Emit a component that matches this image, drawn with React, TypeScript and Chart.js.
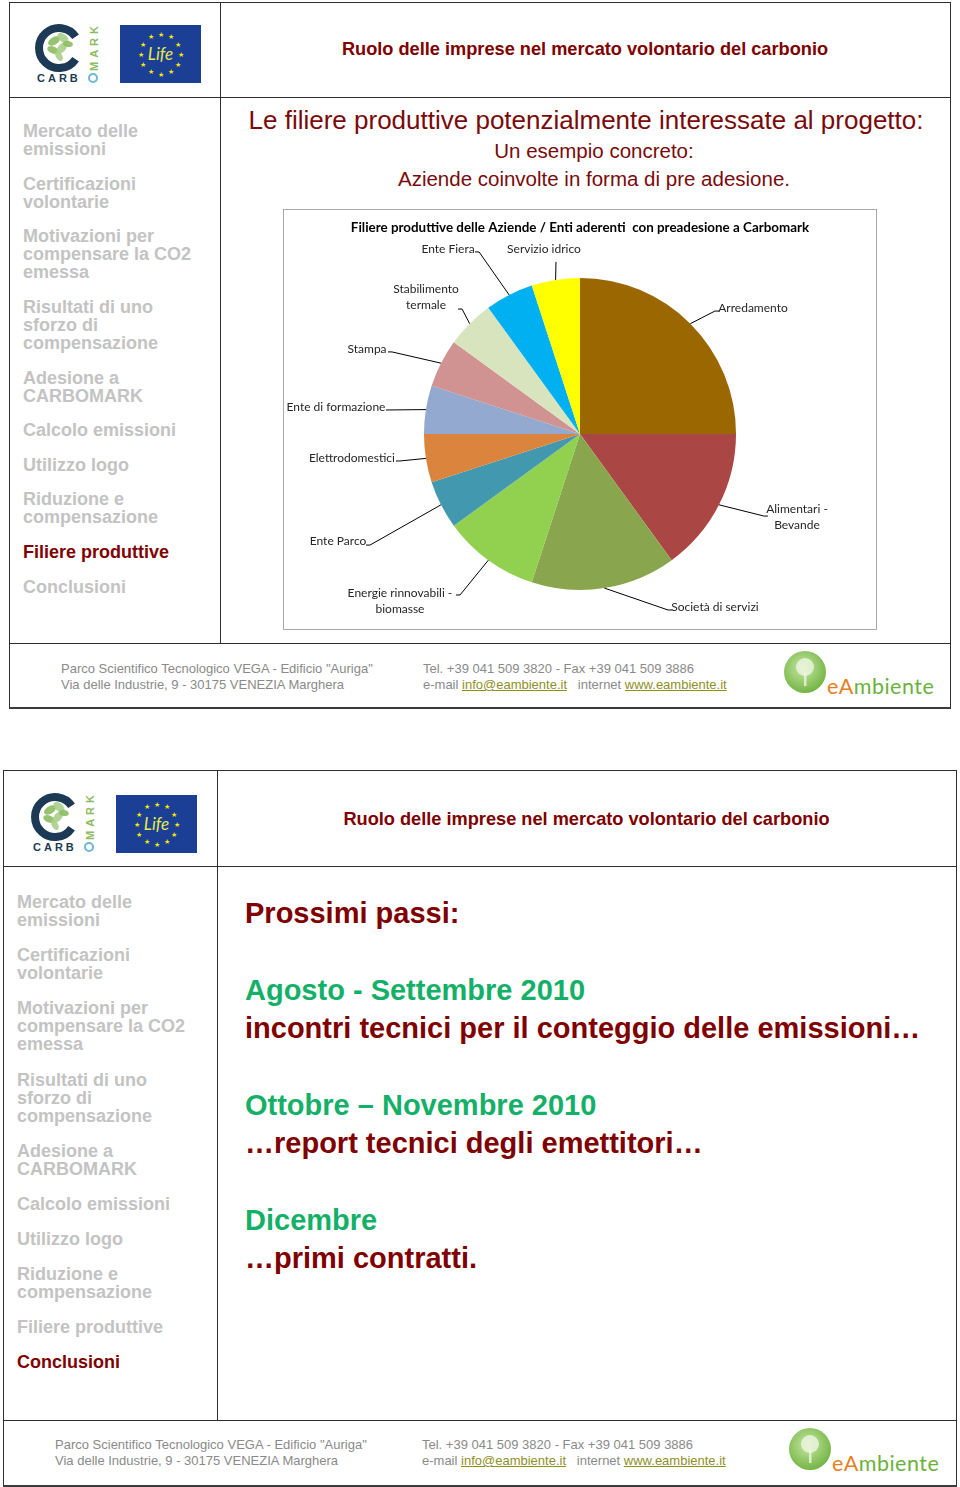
import React, { useEffect, useRef } from "react";
import { Chart, registerables } from "chart.js";

Chart.register(...registerables);

// ---------- chart data ----------
const categories = [
  "Arredamento",
  "Alimentari -\nBevande",
  "Società di servizi",
  "Energie rinnovabili -\nbiomasse",
  "Ente Parco",
  "Elettrodomestici",
  "Ente di formazione",
  "Stampa",
  "Stabilimento\ntermale",
  "Ente Fiera",
  "Servizio idrico",
];
const companies = [5, 3, 3, 2, 1, 1, 1, 1, 1, 1, 1];
const sliceColors = [
  "#9A6700",
  "#AA4643",
  "#89A54E",
  "#92D050",
  "#4198AF",
  "#DB843D",
  "#93A9CF",
  "#D19392",
  "#D8E4BE",
  "#00B0F0",
  "#FFFF00",
];
const chartTitle = "Filiere produttive delle Aziende / Enti aderenti  con preadesione a Carbomark";

// label layout, in units of the pie radius, relative to the pie centre
const labelTextPos = [
  [1.109, -0.808],
  [1.391, 0.532],
  [0.865, 1.109],
  [-1.154, 1.071],
  [-1.551, 0.686],
  [-1.462, 0.154],
  [-1.564, -0.173],
  [-1.365, -0.545],
  [-0.987, -0.878],
  [-0.846, -1.186],
  [-0.231, -1.186],
];
const leaderEnd = [
  [0.865, -0.788],
  [1.179, 0.526],
  [0.564, 1.128],
  [-0.769, 1.032],
  [-1.346, 0.712],
  [-1.154, 0.173],
  [-1.218, -0.154],
  [-1.205, -0.526],
  [-0.756, -0.801],
  [-0.647, -1.167],
  [-0.154, -1.103],
];

// ---------- page texts ----------
const slideTitle = "Ruolo delle imprese nel mercato volontario del carbonio";
const navItems = [
  "Mercato delle\nemissioni",
  "Certificazioni\nvolontarie",
  "Motivazioni per\ncompensare la CO2\nemessa",
  "Risultati di uno\nsforzo di\ncompensazione",
  "Adesione a\nCARBOMARK",
  "Calcolo emissioni",
  "Utilizzo logo",
  "Riduzione e\ncompensazione",
  "Filiere produttive",
  "Conclusioni",
];

const leaderPlugin = {
  id: "leaderLabels",
  afterDatasetsDraw(chart: any) {
    const ctx = chart.ctx;
    const meta = chart.getDatasetMeta(0);
    ctx.save();
    meta.data.forEach((arc: any, i: number) => {
      const p = arc.getProps(["x", "y", "startAngle", "endAngle", "outerRadius"], true);
      const r = p.outerRadius;
      const mid = (p.startAngle + p.endAngle) / 2;
      const sx = p.x + Math.cos(mid) * r;
      const sy = p.y + Math.sin(mid) * r;
      const ex = p.x + leaderEnd[i][0] * r;
      const ey = p.y + leaderEnd[i][1] * r;
      const tx = p.x + labelTextPos[i][0] * r;
      const ty = p.y + labelTextPos[i][1] * r;
      ctx.strokeStyle = "#000";
      ctx.lineWidth = 1;
      ctx.beginPath();
      ctx.moveTo(sx, sy);
      ctx.lineTo(ex, ey);
      if (Math.abs(tx - ex) > 20) {
        ctx.lineTo(ex + (tx > ex ? 4 : -4), ey);
      }
      ctx.stroke();
      const lines = categories[i].split("\n");
      ctx.font = "12px Lato";
      ctx.fillStyle = "#262626";
      ctx.textAlign = "center";
      ctx.textBaseline = "middle";
      const lh = 15.5;
      lines.forEach((ln, k) => {
        ctx.fillText(ln, tx, ty + (k - (lines.length - 1) / 2) * lh);
      });
    });
    ctx.restore();
  },
};

function PieChart() {
  const ref = useRef<HTMLCanvasElement>(null);
  useEffect(() => {
    if (!ref.current) return;
    const chart = new Chart(ref.current, {
      type: "pie",
      data: {
        labels: categories,
        datasets: [{ data: companies, backgroundColor: sliceColors, borderWidth: 0 }],
      },
      options: {
        responsive: false,
        animation: false,
        layout: { padding: { left: 0, right: 0, top: 0, bottom: 39 } },
        plugins: {
          legend: { display: false },
          tooltip: { enabled: false },
          title: {
            display: true,
            text: chartTitle,
            color: "#000",
            font: { family: "Lato", size: 13.4, weight: "bold" },
            padding: { top: 10, bottom: 41.9 },
          },
        },
      } as any,
      plugins: [leaderPlugin],
    });
    return () => chart.destroy();
  }, []);
  return <canvas ref={ref} width={592} height={419} style={{ display: "block", width: 592, height: 419 }} />;
}

const ARIAL = '"Liberation Sans", Arial, Helvetica, sans-serif';
const DARKRED = "#800000";

function T(props: {
  x: number;
  y: number;
  size: number;
  color: string;
  bold?: boolean;
  center?: boolean;
  children: React.ReactNode;
}) {
  const { x, y, size, color, bold, center, children } = props;
  const style: React.CSSProperties = {
    position: "absolute",
    top: y - 0.61 * size + 2,
    fontFamily: ARIAL,
    fontSize: size,
    lineHeight: `${1.15 * size}px`,
    fontWeight: bold ? "bold" : "normal",
    color,
    whiteSpace: "nowrap",
  };
  if (center) {
    style.left = x - 500;
    style.width = 1000;
    style.textAlign = "center";
  } else {
    style.left = x;
  }
  return <div style={style}>{children}</div>;
}

function Line(props: { x: number; y: number; w: number; h: number; c?: string }) {
  return (
    <div
      style={{
        position: "absolute",
        left: props.x,
        top: props.y,
        width: props.w,
        height: props.h,
        background: props.c || "#2e2e2e",
      }}
    />
  );
}

function Frame(props: { l: number; t: number; r: number; b: number; hy: number; dx: number; fy: number }) {
  const { l, t, r, b, hy, dx, fy } = props;
  return (
    <>
      <Line x={l} y={t} w={r - l} h={1} />
      <Line x={l} y={t} w={1} h={b - t} />
      <Line x={r - 1} y={t} w={1} h={b - t} />
      <Line x={l} y={b - 2} w={r - l} h={2} c="#3a3a3a" />
      <Line x={l} y={hy} w={r - l} h={1} />
      <Line x={dx} y={t} w={1} h={fy - t} />
      <Line x={l} y={fy} w={r - l} h={1} />
    </>
  );
}

function Nav(props: { x: number; top: number; active: number; gap: number }) {
  return (
    <div style={{ position: "absolute", left: props.x, top: props.top, width: 200 }}>
      {navItems.map((it, i) => (
        <div
          key={i}
          style={{
            fontFamily: ARIAL,
            fontWeight: "bold",
            fontSize: 18,
            lineHeight: "18px",
            whiteSpace: "pre",
            color: i === props.active ? DARKRED : "#c3c3c3",
            marginBottom: props.gap,
          }}
        >
          {it}
        </div>
      ))}
    </div>
  );
}

function CarboLogo(props: { x: number; y: number }) {
  // origin = top-left of logo box; ring centre at (25,31)
  const leaves = [
    [20, 24, 6.5, 3.8, -30],
    [29, 21, 6.5, 3.8, 40],
    [19, 33, 6, 3.5, 20],
    [28, 31, 6.5, 3.8, -50],
    [34, 27, 5, 3, 10],
    [25, 39, 5.5, 3.2, 60],
  ];
  return (
    <svg
      style={{ position: "absolute", left: props.x, top: props.y }}
      width={68}
      height={70}
      viewBox="0 0 68 70"
    >
      {leaves.map((lf, i) => (
        <ellipse
          key={i}
          cx={lf[0]}
          cy={lf[1]}
          rx={lf[2]}
          ry={lf[3]}
          transform={`rotate(${lf[4]} ${lf[0]} ${lf[1]})`}
          fill={i % 2 ? "#a9cf88" : "#8cbd62"}
          opacity={0.9}
        />
      ))}
      <path d="M 41.6 19.8 A 20 20 0 1 0 41.6 42.2" fill="none" stroke="#1c3a56" strokeWidth={8} />
      <text x={3} y={65} fontFamily={ARIAL} fontWeight="bold" fontSize={11} fill="#1c3a56" letterSpacing={3}>
        CARB
      </text>
      <circle cx={59} cy={61} r={4} fill="none" stroke="#6fb6d8" strokeWidth={2} />
      <text
        x={0}
        y={0}
        transform="translate(63.5 54) rotate(-90)"
        fontFamily={ARIAL}
        fontWeight="bold"
        fontSize={11}
        fill="#8dbb5e"
        letterSpacing={4}
      >
        MARK
      </text>
    </svg>
  );
}

function EuLogo(props: { x: number; y: number }) {
  const stars = Array.from({ length: 12 }, (_, k) => k);
  return (
    <svg style={{ position: "absolute", left: props.x, top: props.y }} width={81} height={58} viewBox="0 0 81 58">
      <rect x={0} y={0} width={81} height={58} fill="#1a3f95" />
      {stars.map((k) => {
        const a = (k / 12) * Math.PI * 2;
        const cx = 40.5 + Math.sin(a) * 20;
        const cy = 29 - Math.cos(a) * 20;
        return (
          <text key={k} x={cx} y={cy + 2.5} textAnchor="middle" fontSize={7} fill="#ffe600">
            ★
          </text>
        );
      })}
      <text
        x={40.5}
        y={35}
        textAnchor="middle"
        fontFamily="Lato, sans-serif"
        fontStyle="italic"
        fontSize={17}
        fill="#e8ea4a"
      >
        Life
      </text>
    </svg>
  );
}

function EAmbiente(props: { x: number; y: number }) {
  // x,y = circle centre
  const id = `g${props.x}`;
  return (
    <>
      <svg style={{ position: "absolute", left: props.x - 24, top: props.y - 24 }} width={48} height={48}>
        <defs>
          <radialGradient id={id} cx="45%" cy="40%" r="60%">
            <stop offset="0%" stopColor="#c9e7a6" />
            <stop offset="100%" stopColor="#73b544" />
          </radialGradient>
        </defs>
        <circle cx={24} cy={24} r={21} fill={`url(#${id})`} />
        <circle cx={24} cy={19} r={9} fill="#eef6e2" opacity={0.8} />
        <rect x={23} y={24} width={2.5} height={14} fill="#eef6e2" opacity={0.8} />
      </svg>
      <div
        style={{
          position: "absolute",
          left: props.x + 22,
          top: props.y + 2,
          fontFamily: "Lato, sans-serif",
          fontSize: 21.5,
          lineHeight: "24px",
          whiteSpace: "nowrap",
          letterSpacing: 0.5,
        }}
      >
        <span style={{ color: "#e5801f" }}>eA</span>
        <span style={{ color: "#6bb23c" }}>mbiente</span>
      </div>
    </>
  );
}

function Footer(props: { x: number; rx: number; y: number }) {
  const c = "#8a8a8a";
  const link: React.CSSProperties = { color: "#8f8f1f", textDecoration: "underline" };
  return (
    <>
      <T x={props.x} y={props.y} size={13} color={c}>
        Parco Scientifico Tecnologico VEGA - Edificio "Auriga"
      </T>
      <T x={props.x} y={props.y + 16} size={13} color={c}>
        Via delle Industrie, 9 - 30175 VENEZIA Marghera
      </T>
      <T x={props.rx} y={props.y} size={13} color={c}>
        Tel. +39 041 509 3820 - Fax +39 041 509 3886
      </T>
      <T x={props.rx} y={props.y + 16} size={13} color={c}>
        e-mail <span style={link}>info@eambiente.it</span>
        {"\u00a0\u00a0\u00a0"}internet <span style={link}>www.eambiente.it</span>
      </T>
    </>
  );
}

export default function App() {
  const GREEN = "#14b068";
  return (
    <div
      style={{
        position: "absolute",
        left: 0,
        top: 0,
        width: 960,
        height: 1487,
        background: "#fff",
        overflow: "hidden",
      }}
    >
      {/* ---------- slide 1 ---------- */}
      <Frame l={9} t={2} r={951} b={709} hy={97} dx={220} fy={643} />
      <CarboLogo x={34} y={17} />
      <EuLogo x={120} y={25} />
      <T x={585} y={48} size={18.2} color={DARKRED} bold center>
        {slideTitle}
      </T>
      <Nav x={23} top={122.3} active={8} gap={16.6} />
      <T x={586} y={120} size={26} color="#7a0a0a" center>
        Le filiere produttive potenzialmente interessate al progetto:
      </T>
      <T x={594} y={150} size={20.5} color="#7a0a0a" center>
        Un esempio concreto:
      </T>
      <T x={594} y={178} size={20.5} color="#7a0a0a" center>
        Aziende coinvolte in forma di pre adesione.
      </T>
      <div
        style={{
          position: "absolute",
          left: 283,
          top: 209,
          width: 594,
          height: 421,
          boxSizing: "border-box",
          border: "1px solid #a8a8a8",
        }}
      >
        <PieChart />
      </div>
      <Footer x={61} rx={423} y={668} />
      <EAmbiente x={805} y={672} />

      {/* ---------- slide 2 ---------- */}
      <Frame l={3} t={770} r={957} b={1487} hy={866} dx={217} fy={1420} />
      <CarboLogo x={30} y={786} />
      <EuLogo x={116} y={795} />
      <T x={586.5} y={818} size={18.2} color={DARKRED} bold center>
        {slideTitle}
      </T>
      <Nav x={17} top={893.3} active={9} gap={17.1} />
      <T x={245} y={913} size={29} color={DARKRED} bold>
        Prossimi passi:
      </T>
      <T x={245} y={990} size={29} color={GREEN} bold>
        Agosto - Settembre 2010
      </T>
      <T x={245} y={1028} size={29} color={DARKRED} bold>
        incontri tecnici per il conteggio delle emissioni…
      </T>
      <T x={245} y={1105} size={29} color={GREEN} bold>
        Ottobre – Novembre 2010
      </T>
      <T x={245} y={1143} size={29} color={DARKRED} bold>
        …report tecnici degli emettitori…
      </T>
      <T x={245} y={1220} size={29} color={GREEN} bold>
        Dicembre
      </T>
      <T x={245} y={1258} size={29} color={DARKRED} bold>
        …primi contratti.
      </T>
      <Footer x={55} rx={422} y={1444} />
      <EAmbiente x={810} y={1449} />
    </div>
  );
}
